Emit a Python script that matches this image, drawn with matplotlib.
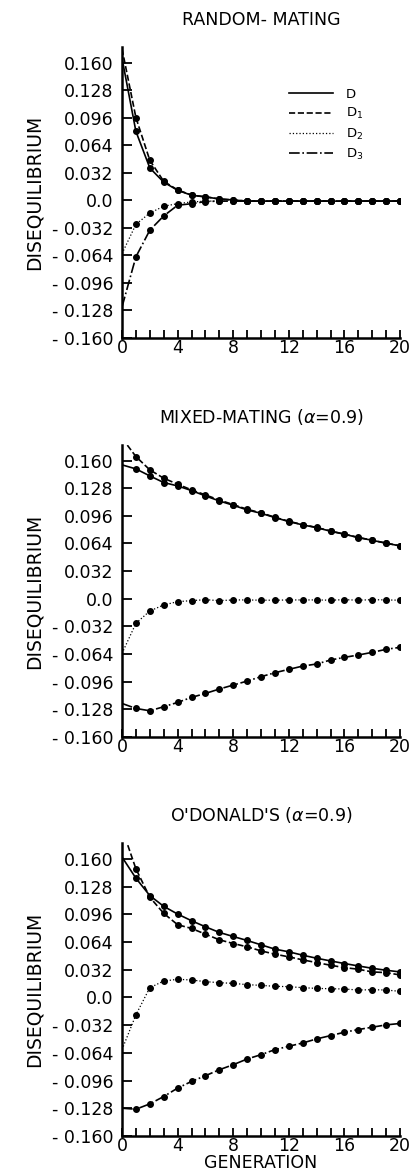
import matplotlib
matplotlib.use("Agg")
import matplotlib.pyplot as plt
from matplotlib.ticker import MultipleLocator

# generations 0..20
gen = list(range(21))

# random mating
rm_D = [0.165, 0.080, 0.0375, 0.021, 0.0116, 0.0058, 0.0039, 0.0015, 0.0003, -0.001, -0.001,
        -0.001, -0.001, -0.001, -0.001, -0.001, -0.001, -0.001, -0.001, -0.001, -0.001]
rm_D1 = [0.176, 0.096, 0.0464, 0.022, 0.012, 0.006, 0.004, 0.0015, 0.0003, -0.001, -0.001,
         -0.001, -0.001, -0.001, -0.001, -0.001, -0.001, -0.001, -0.001, -0.001, -0.001]
rm_D2 = [-0.062, -0.028, -0.0148, -0.007, -0.0039, -0.002, -0.001, -0.001, -0.001, -0.001, -0.001,
         -0.001, -0.001, -0.001, -0.001, -0.001, -0.001, -0.001, -0.001, -0.001, -0.001]
rm_D3 = [-0.124, -0.0657, -0.0348, -0.0182, -0.0058, -0.004, -0.0015, -0.001, -0.001, -0.001, -0.001,
         -0.001, -0.001, -0.001, -0.001, -0.001, -0.001, -0.001, -0.001, -0.001, -0.001]

# mixed mating (alpha = 0.9)
mm_D = [0.155, 0.1503, 0.1422, 0.1345, 0.1306, 0.1252, 0.119, 0.1132, 0.1082, 0.1028, 0.0989,
        0.0939, 0.0893, 0.0854, 0.0823, 0.0781, 0.0746, 0.0707, 0.0676, 0.0642, 0.0611]
mm_D1 = [0.186, 0.1646, 0.1492, 0.1395, 0.1326, 0.126, 0.1202, 0.1142, 0.109, 0.1035, 0.0994,
         0.0943, 0.0896, 0.0857, 0.0825, 0.0783, 0.0748, 0.0709, 0.0677, 0.0643, 0.0612]
mm_D2 = [-0.0634, -0.0286, -0.0143, -0.0073, -0.0035, -0.0023, -0.0012, -0.0023, -0.0015, -0.0015, -0.0018,
         -0.0018, -0.0015, -0.0015, -0.0015, -0.0018, -0.0012, -0.0018, -0.0012, -0.0015, -0.0018]
mm_D3 = [-0.1214, -0.1272, -0.1299, -0.1252, -0.1202, -0.1144, -0.1098, -0.1047, -0.1001, -0.0955, -0.0904,
         -0.0858, -0.0819, -0.0781, -0.0757, -0.0711, -0.068, -0.0653, -0.0622, -0.0587, -0.0564]

# O'Donald's (alpha = 0.9)
od_D = [0.162, 0.1376, 0.1175, 0.1051, 0.0962, 0.0885, 0.0815, 0.075, 0.0703, 0.0657, 0.0607,
        0.0557, 0.0526, 0.0487, 0.0452, 0.0421, 0.0391, 0.0363, 0.0336, 0.0313, 0.0294]
od_D1 = [0.195, 0.1484, 0.1156, 0.097, 0.0839, 0.0796, 0.073, 0.0665, 0.0622, 0.0584, 0.0537,
         0.0499, 0.0468, 0.0433, 0.0402, 0.0371, 0.0344, 0.0325, 0.0294, 0.0286, 0.0259]
od_D2 = [-0.0603, -0.0201, 0.0112, 0.0189, 0.0209, 0.0201, 0.0182, 0.017, 0.0162, 0.0147, 0.0139,
         0.0128, 0.0124, 0.0112, 0.0104, 0.01, 0.0097, 0.0085, 0.0089, 0.0085, 0.007]
od_D3 = [-0.1279, -0.1291, -0.1229, -0.1144, -0.1047, -0.097, -0.0904, -0.0835, -0.0777, -0.0711, -0.0661,
         -0.0603, -0.0564, -0.0526, -0.0479, -0.0441, -0.0402, -0.0371, -0.0344, -0.0317, -0.0301]

titles = ["RANDOM- MATING", "MIXED-MATING ($\\alpha$=0.9)", "O'DONALD'S ($\\alpha$=0.9)"]
panels = [(rm_D, rm_D1, rm_D2, rm_D3), (mm_D, mm_D1, mm_D2, mm_D3), (od_D, od_D1, od_D2, od_D3)]
series_names = ["D", "D$_1$", "D$_2$", "D$_3$"]
styles = ["-", "--", ":", "-."]

yticks = [0.160, 0.128, 0.096, 0.064, 0.032, 0.0, -0.032, -0.064, -0.096, -0.128, -0.160]
ytick_labels = ["0.160", "0.128", "0.096", "0.064", "0.032", "0.0",
                "- 0.032", "- 0.064", "- 0.096", "- 0.128", "- 0.160"]
xticks = [0, 4, 8, 12, 16, 20]

plt.rcParams["mathtext.fontset"] = "dejavusans"
fig = plt.figure(figsize=(4.15, 11.76), dpi=100)

# axes boxes [left, bottom, width, height] in figure fraction
boxes = [[0.294, 0.7126, 0.670, 0.2474],
         [0.294, 0.3735, 0.670, 0.2481],
         [0.294, 0.034, 0.670, 0.249]]

for k in range(3):
    ax = fig.add_axes(boxes[k])
    for s in range(4):
        ax.plot(gen, panels[k][s], color="black", linestyle=styles[s],
                lw=1.2 if s != 2 else 0.9, marker="o", ms=4,
                markevery=list(range(1, 21)), label=series_names[s], clip_on=True)
    ax.set_xlim(0, 20)
    ax.set_ylim(-0.160, 0.178)
    ax.spines["top"].set_visible(False)
    ax.spines["right"].set_visible(False)
    ax.spines["left"].set_linewidth(1.8)
    ax.spines["bottom"].set_linewidth(1.8)
    ax.set_yticks(yticks)
    ax.set_yticklabels(ytick_labels)
    ax.set_xticks(xticks)
    ax.xaxis.set_minor_locator(MultipleLocator(1))
    ax.tick_params(axis="y", which="both", direction="in", length=7, width=1.3,
                   labelsize=12.5, pad=6)
    ax.tick_params(axis="x", which="both", direction="in", length=6, width=1.3,
                   labelsize=12.5, pad=1)
    ax.set_ylabel("DISEQUILIBRIUM", fontsize=13.5, labelpad=6)
    ax.set_title(titles[k], fontsize=12.5, pad=16)
    if k == 0:
        ax.legend(loc="upper right", bbox_to_anchor=(0.91, 0.9), frameon=False,
                  fontsize=9.5, handlelength=3.3, labelspacing=0.4, handletextpad=1.0,
                  markerscale=0)
    if k == 2:
        ax.set_xlabel("GENERATION", fontsize=12.5, labelpad=-1)

fig.savefig("out.png", dpi=100)
